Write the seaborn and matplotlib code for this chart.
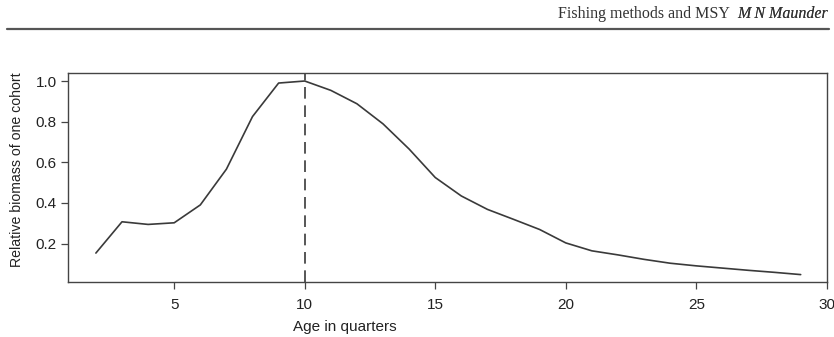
import matplotlib
matplotlib.use("Agg")
import matplotlib.pyplot as plt
import seaborn as sns
import pandas as pd

# Relative biomass of one cohort by age (quarters)
age = [2, 3, 4, 5, 6, 7, 8, 9, 10, 11, 12, 13, 14, 15, 16, 17, 18, 19, 20,
       21, 22, 23, 24, 25, 26, 27, 28, 29]
biomass = [0.153, 0.307, 0.294, 0.302, 0.39, 0.566, 0.825, 0.99, 1.0, 0.954,
           0.888, 0.789, 0.665, 0.525, 0.434, 0.368, 0.319, 0.269, 0.203,
           0.164, 0.144, 0.122, 0.103, 0.09, 0.079, 0.068, 0.058, 0.047]
peak_age = 10
x_ticks = [5, 10, 15, 20, 25, 30]
y_ticks = [0.2, 0.4, 0.6, 0.8, 1.0]

df = pd.DataFrame({"age": age, "biomass": biomass})

sns.set_theme(style="ticks")
plt.rcParams["font.family"] = ["Liberation Sans", "DejaVu Sans"]

W, H = 834, 337
fig = plt.figure(figsize=(W / 100, H / 100), dpi=100)
left, right, top, bottom = 67.7, 827.3, 73.3, 281.7
ax = fig.add_axes([left / W, 1 - bottom / H, (right - left) / W, (bottom - top) / H])

line_col = "#3a3a3a"
sns.lineplot(data=df, x="age", y="biomass", ax=ax, color=line_col, linewidth=1.2)
ax.axvline(peak_age, color=line_col, linewidth=1.2, linestyle=(0, (7, 4)))

ax.set_xlim(0.92, 30.02)
ax.set_ylim(0.012, 1.038)
ax.set_xticks(x_ticks)
ax.set_yticks(y_ticks)
ax.set_xticklabels([str(t) for t in x_ticks])
ax.set_yticklabels([f"{t:.1f}" for t in y_ticks])

for s in ax.spines.values():
    s.set_color("#444444")
    s.set_linewidth(1.0)
ax.tick_params(axis="both", direction="out", length=5, width=0.9, color="#444444",
               labelsize=11, labelcolor="#222222", pad=3)
ax.tick_params(axis="x", pad=7)

ax.set_xlabel("Age in quarters", fontsize=11, color="#222222")
ax.set_ylabel("Relative biomass of one cohort", fontsize=10.2, color="#222222")
ax.xaxis.set_label_coords((345 - left) / (right - left), -(326.7 - bottom) / (bottom - top))
ax.xaxis.label.set_va("center")
ax.yaxis.set_label_coords(-(left - 17) / (right - left), (bottom - 170) / (bottom - top))
ax.yaxis.label.set_va("center")

# Running header with rule
author = fig.text(828 / W, 1 - 14 / H, "M N Maunder", ha="right", va="center",
                  fontsize=11.5, family="Liberation Serif", style="italic", color="#333333")
fig.add_artist(author)
ax.annotate("Fishing methods and MSY  ", xy=(0, 0.5), xycoords=author,
            ha="right", va="center", fontsize=11.5, family="Liberation Serif",
            color="#333333", annotation_clip=False)
fig.add_artist(plt.Line2D([7 / W, 829 / W], [1 - 29 / H, 1 - 29 / H],
                          color="#555555", linewidth=1.6))

fig.savefig("out.png", dpi=100, facecolor="white")
